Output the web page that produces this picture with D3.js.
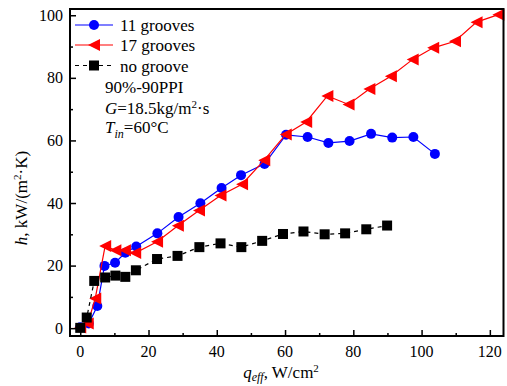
<!DOCTYPE html>
<html>
<head>
<meta charset="utf-8">
<script src="https://cdn.jsdelivr.net/npm/d3@7"></script>
<style>
  svg text.serif { font-family: "Liberation Serif", Tinos, Times, "Times New Roman", monospace; }
</style>
</head>
<body style="margin:0">
<div id="chart"></div>
<script>
// q_eff (W/cm2) and h (kW/(m2 K))
const qBlue = [0, 2.5, 5.0, 7.1, 10.2, 13.2, 16.4, 22.6, 28.8, 35.2, 41.4, 47.1, 54.0, 60.3, 66.6, 72.7, 78.9, 85.2, 91.4, 97.6, 103.9];
const hBlue = [0.3, 1.5, 7.1, 19.9, 20.9, 24.1, 26.1, 30.3, 35.5, 39.9, 44.8, 48.9, 52.5, 61.8, 61.1, 59.2, 59.8, 62.1, 60.9, 61.1, 55.7];

const qRed = [0, 2.2, 4.4, 7.3, 10.3, 13.1, 16.1, 22.5, 28.6, 34.8, 41.1, 47.4, 53.9, 60.2, 66.2, 72.4, 78.6, 84.7, 91.0, 97.4, 103.4, 109.8, 116.1, 122.5];
const hRed = [0.2, 1.5, 9.5, 26.3, 24.9, 24.9, 24.0, 27.6, 32.7, 37.6, 42.4, 46.0, 53.7, 61.9, 65.9, 74.2, 71.5, 76.4, 80.5, 85.9, 89.6, 91.7, 97.8, 100.2];

const qNone = [0, 1.9, 4.1, 7.3, 10.3, 13.2, 16.3, 22.5, 28.5, 34.9, 41.1, 47.2, 53.3, 59.4, 65.4, 71.6, 77.6, 83.8, 89.9];
const hNone = [0.1, 3.4, 15.1, 16.2, 16.8, 16.4, 18.5, 22.1, 23.1, 25.9, 27.1, 25.9, 27.9, 30.1, 30.9, 30.0, 30.3, 31.6, 32.8];

const seriesNames = ['11 grooves', '17 grooves', 'no groove'];
const xTicks = [0, 20, 40, 60, 80, 100, 120];
const yTicks = [0, 20, 40, 60, 80, 100];

const W = 507, H = 386;
const plotL = 70, plotR = 503.5, plotT = 9, plotB = 336;
const FONT = '"Liberation Serif", Tinos, Times, "Times New Roman", monospace';

const svg = d3.select('#chart').append('svg')
    .attr('width', W)
    .attr('height', H);

const x = d3.scaleLinear().domain([-3, 124]).range([plotL, plotR]);
const y = d3.scaleLinear().domain([-2.5, 102]).range([plotB, plotT]);

// every text gets the serif face
function txt(parent, size) {
    return parent.append('text')
        .attr('class', 'serif')
        .style('font', `${size}px ${FONT}`);
}

const series = [
    { name: seriesNames[0], q: qBlue, h: hBlue, color: '#0000ff', marker: 'circle', dash: null },
    { name: seriesNames[1], q: qRed, h: hRed, color: '#ff0000', marker: 'tri', dash: null },
    { name: seriesNames[2], q: qNone, h: hNone, color: '#000000', marker: 'square', dash: '4,4' }
];

const line = d3.line().x(d => x(d[0])).y(d => y(d[1]));

function drawMarker(g, type, color, cx, cy) {
    if (type === 'circle') {
        g.append('circle').attr('cx', cx).attr('cy', cy).attr('r', 5).attr('fill', color);
    } else if (type === 'tri') {
        // left-pointing triangle
        g.append('path')
            .attr('d', `M${cx - 6},${cy} L${cx + 6},${cy - 6} L${cx + 6},${cy + 6} Z`)
            .attr('fill', color);
    } else {
        g.append('rect').attr('x', cx - 5).attr('y', cy - 5).attr('width', 10).attr('height', 10).attr('fill', color);
    }
}

const plot = svg.append('g');
series.forEach(s => {
    const pts = s.q.map((q, i) => [q, s.h[i]]);
    plot.append('path')
        .datum(pts)
        .attr('d', line)
        .attr('fill', 'none')
        .attr('stroke', s.color)
        .attr('stroke-width', 1.2)
        .attr('stroke-dasharray', s.dash);
    const mg = plot.append('g');
    pts.forEach(p => drawMarker(mg, s.marker, s.color, x(p[0]), y(p[1])));
});

// tick marks from the axes, pointing inward
const xAxis = svg.append('g')
    .attr('transform', `translate(0,${plotB})`)
    .call(d3.axisBottom(x).tickValues(xTicks).tickSizeInner(-6).tickSizeOuter(0).tickFormat(''));
const xMinor = svg.append('g')
    .attr('transform', `translate(0,${plotB})`)
    .call(d3.axisBottom(x).tickValues(d3.range(10, 121, 20)).tickSize(-3).tickFormat(''));
const yAxis = svg.append('g')
    .attr('transform', `translate(${plotL},0)`)
    .call(d3.axisLeft(y).tickValues(yTicks).tickSizeInner(-6).tickSizeOuter(0).tickFormat(''));
const yMinor = svg.append('g')
    .attr('transform', `translate(${plotL},0)`)
    .call(d3.axisLeft(y).tickValues(d3.range(10, 101, 20)).tickSize(-3).tickFormat(''));
[xAxis, xMinor, yAxis, yMinor].forEach(a => {
    a.select('.domain').remove();
    a.selectAll('line').attr('stroke-width', 1.5);
    a.selectAll('text').remove();
    a.attr('font-family', null).attr('font-size', null);
});

// tick labels
const xLab = svg.append('g');
xTicks.forEach(t => {
    txt(xLab, 16).attr('x', x(t)).attr('y', 357).attr('text-anchor', 'middle').text(t);
});
const yLab = svg.append('g');
yTicks.forEach(t => {
    txt(yLab, 16).attr('x', 63).attr('y', y(t) + 5.5).attr('text-anchor', 'end').text(t);
});

// frame
svg.append('rect')
    .attr('x', plotL).attr('y', plotT)
    .attr('width', plotR - plotL).attr('height', plotB - plotT)
    .attr('fill', 'none')
    .attr('stroke', '#000')
    .attr('stroke-width', 2);

// legend
const legend = svg.append('g');
const legRows = [25, 45, 65.5];
series.forEach((s, i) => {
    const ly = legRows[i];
    legend.append('line')
        .attr('x1', 75).attr('x2', 113)
        .attr('y1', ly).attr('y2', ly)
        .attr('stroke', s.color)
        .attr('stroke-width', 1.2)
        .attr('stroke-dasharray', s.dash);
    drawMarker(legend, s.marker, s.color, 94, ly);
    txt(legend, 17).attr('x', 120).attr('y', ly + 6).text(s.name);
});

// condition annotations
const note = svg.append('g');
txt(note, 17).attr('x', 105).attr('y', 93).text('90%-90PPI');
const t2 = txt(note, 17).attr('x', 105).attr('y', 114);
t2.append('tspan').style('font-style', 'italic').text('G');
t2.append('tspan').text('=18.5kg/m');
t2.append('tspan').attr('dy', -6).style('font-size', '11px').text('2');
t2.append('tspan').attr('dy', 6).text('·s');
const t3 = txt(note, 17).attr('x', 105).attr('y', 133);
t3.append('tspan').style('font-style', 'italic').text('T');
t3.append('tspan').attr('dy', 5).style('font-style', 'italic').style('font-size', '12px').text('in');
t3.append('tspan').attr('dy', -5).text('=60°C');

// axis titles
const xt = txt(svg, 17).attr('x', 281).attr('y', 378).attr('text-anchor', 'middle');
xt.append('tspan').style('font-style', 'italic').text('q');
xt.append('tspan').attr('dy', 3).style('font-style', 'italic').style('font-size', '12px').text('eff');
xt.append('tspan').attr('dy', -3).text(', W/cm');
xt.append('tspan').attr('dy', -6).style('font-size', '11px').text('2');

const yt = txt(svg, 17).attr('transform', 'translate(27,198) rotate(-90)').attr('text-anchor', 'middle');
yt.append('tspan').style('font-style', 'italic').text('h');
yt.append('tspan').text(', kW/(m');
yt.append('tspan').attr('dy', -6).style('font-size', '11px').text('2');
yt.append('tspan').attr('dy', 6).text('·K)');

// re-apply once fonts are settled, in case the face loads late
if (document.fonts && document.fonts.ready) {
    document.fonts.ready.then(() => {
        svg.selectAll('text.serif').style('font-family', FONT);
    });
}
</script>
</body>
</html>
